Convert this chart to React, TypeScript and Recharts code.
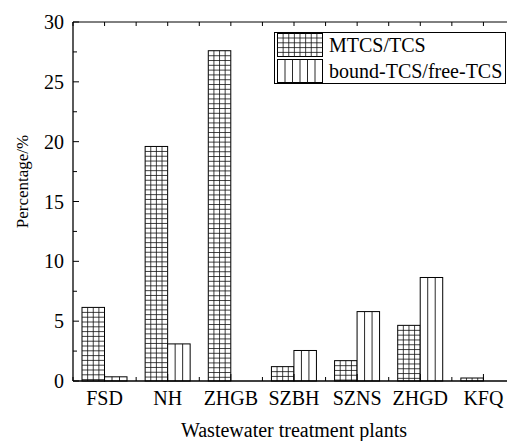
import React from 'react'
import { BarChart, Bar, XAxis, YAxis, Legend } from 'recharts'

const plants = ['FSD', 'NH', 'ZHGB', 'SZBH', 'SZNS', 'ZHGD', 'KFQ']
const mtcsTcs = [6.15, 19.6, 27.6, 1.2, 1.7, 4.65, 0.25]
const boundFree = [0.35, 3.1, 0, 2.55, 5.8, 8.65, 0]
const yTicks = [0, 2.5, 5, 7.5, 10, 12.5, 15, 17.5, 20, 22.5, 25, 27.5, 30]
const seriesNames = ['MTCS/TCS', 'bound-TCS/free-TCS']

const data = plants.map((name, i) => ({ name, mtcs: mtcsTcs[i], bound: boundFree[i] }))

const FONT = '"Liberation Serif", "Times New Roman", serif'
const txt = (size: number): React.CSSProperties => ({ fontFamily: FONT, fontSize: size, fill: '#000' })

// bar shapes: rect with the hatch drawn as lines so it lines up with bar edges
const GridBar = (props: any) => {
  const { x, y, width, height } = props
  if (!height || height <= 0) return <g />
  const lines: React.ReactNode[] = []
  for (let k = 1; k < 4; k++) {
    const lx = x + (width * k) / 4
    lines.push(<line key={'v' + k} x1={lx} x2={lx} y1={y} y2={y + height} />)
  }
  for (let hy = y + 5; hy < y + height - 0.5; hy += 4.8) {
    lines.push(<line key={'h' + hy} x1={x} x2={x + width} y1={hy} y2={hy} />)
  }
  return (
    <g>
      <rect x={x} y={y} width={width} height={height} fill="#fff" stroke="#000" strokeWidth={1} />
      <g stroke="#111" strokeWidth={0.8}>{lines}</g>
    </g>
  )
}

const StripeBar = (props: any) => {
  const { x, y, width, height } = props
  if (!height || height <= 0) return <g />
  const lines: React.ReactNode[] = []
  for (let k = 1; k < 3; k++) {
    const lx = x + (width * k) / 3
    lines.push(<line key={'v' + k} x1={lx} x2={lx} y1={y} y2={y + height} />)
  }
  return (
    <g>
      <rect x={x} y={y} width={width} height={height} fill="#fff" stroke="#000" strokeWidth={1} />
      <g stroke="#111" strokeWidth={0.9}>{lines}</g>
    </g>
  )
}

const XTick = (props: any) => {
  const { x, y, payload } = props
  const half = payload && payload.offset ? payload.offset : 31.6
  return (
    <g>
      <line x1={x - half} x2={x - half} y1={y} y2={y - 4} stroke="#000" />
      <line x1={x} x2={x} y1={y} y2={y - 7} stroke="#000" />
      <text x={x} y={y + 24} textAnchor="middle" style={txt(20)}>
        {payload.value}
      </text>
    </g>
  )
}

const TopTick = (props: any) => {
  const { x, y, payload } = props
  const half = payload && payload.offset ? payload.offset : 31.6
  return (
    <g>
      <line x1={x - half} x2={x - half} y1={y} y2={y + 4} stroke="#000" />
      <line x1={x} x2={x} y1={y} y2={y + 4} stroke="#000" />
    </g>
  )
}

const YTick = (props: any) => {
  const { x, y, payload } = props
  const v = payload.value
  const major = v % 5 === 0
  return (
    <g>
      <line x1={x} x2={x + (major ? 6 : 4)} y1={y} y2={y} stroke="#000" />
      {major && (
        <text x={x - 9} y={y} dy="0.35em" textAnchor="end" style={txt(20)}>
          {v}
        </text>
      )}
    </g>
  )
}

const GridSwatch = () => {
  const lines: React.ReactNode[] = []
  for (let k = 1; k < 8; k++) {
    const lx = 0.5 + (45 * k) / 8
    lines.push(<line key={'v' + k} x1={lx} x2={lx} y1={0.5} y2={23.5} />)
  }
  for (let hy = 5; hy < 23; hy += 4.8) {
    lines.push(<line key={'h' + hy} x1={0.5} x2={45.5} y1={hy} y2={hy} />)
  }
  return (
    <svg width={46} height={24}>
      <rect x={0.5} y={0.5} width={45} height={23} fill="#fff" stroke="#000" />
      <g stroke="#111" strokeWidth={0.8}>{lines}</g>
    </svg>
  )
}

const StripeSwatch = () => {
  const lines: React.ReactNode[] = []
  for (let k = 1; k < 6; k++) {
    const lx = 0.5 + (45 * k) / 6
    lines.push(<line key={'v' + k} x1={lx} x2={lx} y1={0.5} y2={23.5} />)
  }
  return (
    <svg width={46} height={24}>
      <rect x={0.5} y={0.5} width={45} height={23} fill="#fff" stroke="#000" />
      <g stroke="#111" strokeWidth={0.9}>{lines}</g>
    </svg>
  )
}

const LegendBox = () => (
  <div
    style={{
      boxSizing: 'border-box',
      width: 232,
      height: 52,
      border: '1px solid #000',
      background: '#fff',
      padding: '0 0 0 2px',
      fontFamily: FONT,
      fontSize: 20,
      color: '#000',
    }}
  >
    {seriesNames.map((s, i) => (
      <div key={s} style={{ display: 'flex', alignItems: 'center', height: 24, marginBottom: 2 }}>
        {i === 0 ? <GridSwatch /> : <StripeSwatch />}
        <span style={{ marginLeft: 6, lineHeight: '24px', whiteSpace: 'nowrap' }}>{s}</span>
      </div>
    ))}
  </div>
)

export default function App() {
  return (
    <div style={{ position: 'absolute', left: 0, top: 0, width: 507, height: 441, overflow: 'hidden', background: '#fff' }}>
      <BarChart
        width={530}
        height={441}
        data={data}
        margin={{ top: 21, right: 15, left: 0, bottom: 0 }}
        barGap={0}
        barSize={22.5}
      >
        <XAxis
          dataKey="name"
          height={60}
          axisLine={{ stroke: '#000', strokeWidth: 1.3 }}
          tickLine={false}
          tickSize={0}
          tickMargin={0}
          tick={<XTick />}
          interval={0}
          label={(p: any) => {
            const vb = p.viewBox
            return (
              <text x={vb.x + vb.width / 2} y={vb.y + 56} textAnchor="middle" style={txt(20)}>
                Wastewater treatment plants
              </text>
            )
          }}
        />
        <XAxis
          xAxisId="top"
          dataKey="name"
          orientation="top"
          height={1}
          axisLine={{ stroke: '#000', strokeWidth: 1 }}
          tickLine={false}
          tickSize={0}
          tickMargin={0}
          tick={<TopTick />}
          interval={0}
        />
        <YAxis
          width={73}
          domain={[0, 30]}
          ticks={yTicks}
          interval={0}
          axisLine={{ stroke: '#000', strokeWidth: 1.3 }}
          tickLine={false}
          tickSize={0}
          tickMargin={0}
          tick={<YTick />}
          label={(p: any) => {
            const vb = p.viewBox
            const cy = vb.y + vb.height / 2 - 20
            return (
              <text x={28} y={cy} transform={`rotate(-90, 28, ${cy})`} textAnchor="middle" style={txt(17)}>
                Percentage/%
              </text>
            )
          }}
        />
        <Legend
          layout="vertical"
          align="center"
          verticalAlign="middle"
          wrapperStyle={{ left: 274, top: 32, width: 232 }}
          content={() => <LegendBox />}
        />
        <Bar dataKey="mtcs" name={seriesNames[0]} shape={<GridBar />} isAnimationActive={false} />
        <Bar dataKey="bound" name={seriesNames[1]} shape={<StripeBar />} isAnimationActive={false} />
      </BarChart>
    </div>
  )
}
